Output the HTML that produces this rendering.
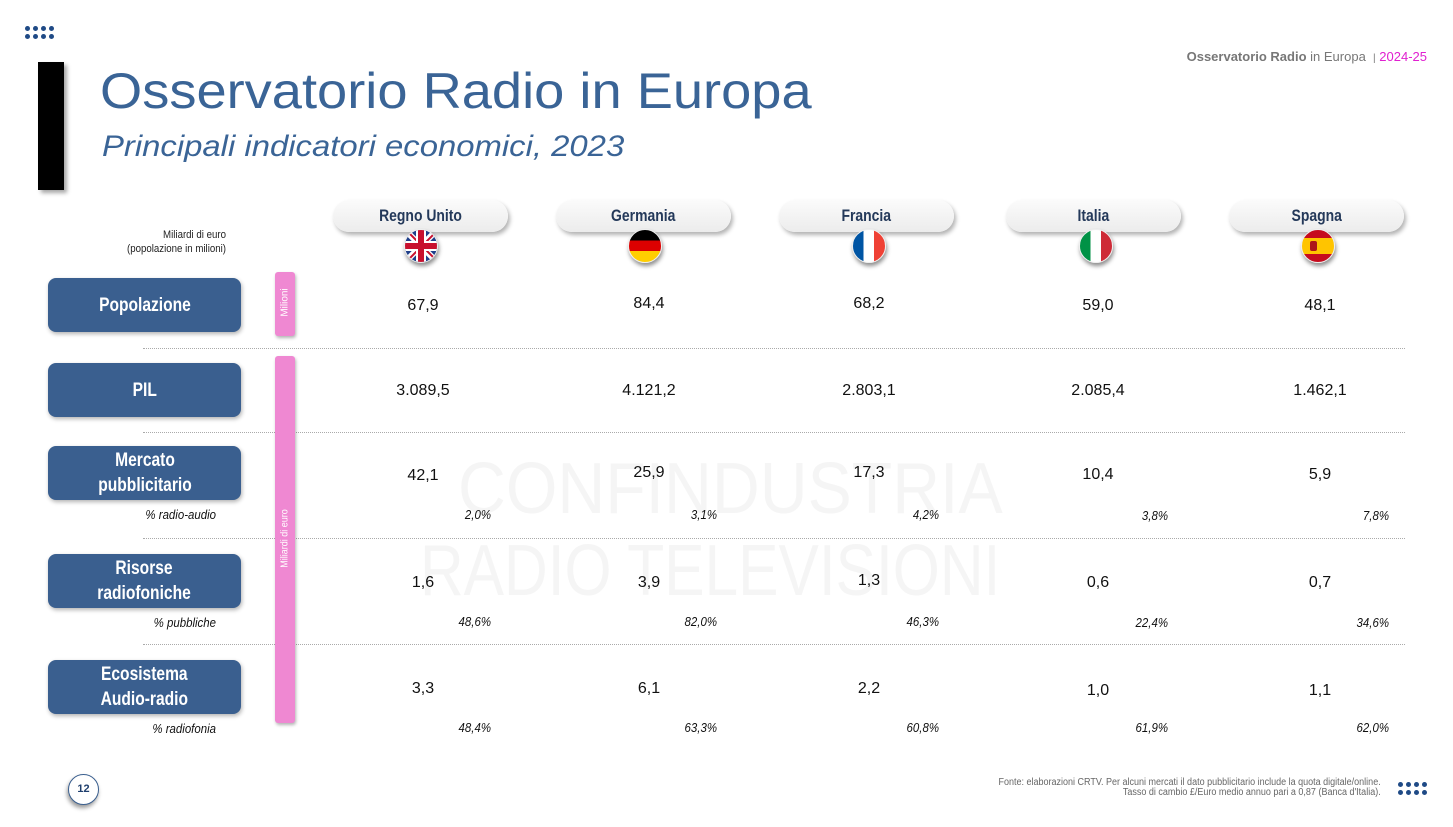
<!DOCTYPE html>
<html><head><meta charset="utf-8"><style>
body{margin:0;width:1453px;height:827px;background:#fff;position:relative;overflow:hidden;font-family:"Liberation Sans",sans-serif}
.a{position:absolute}
.dots{display:grid;grid-template-columns:repeat(4,5px);gap:3px 3px}
.dots i{width:5px;height:5px;border-radius:50%;background:#1f4a86;display:block}
.pill{position:absolute;top:200px;width:175px;height:32px;border-radius:16px;background:linear-gradient(#fbfbfb,#ececec);box-shadow:2px 3px 4px rgba(0,0,0,.3);text-align:center;font:bold 17px "Liberation Sans",sans-serif;color:#24395a;line-height:32px}
.pill span,.lbl span{display:inline-block;transform:scaleX(.82)}
.flag{position:absolute;top:229px;width:32px;height:32px;border-radius:50%;overflow:hidden;box-shadow:1px 3px 4px rgba(0,0,0,.45);border:1px solid #eee}
.lbl{position:absolute;left:48px;width:193px;height:54px;border-radius:8px;background:#3a5f8f;box-shadow:1px 2px 4px rgba(0,0,0,.3);color:#fff;font:bold 19px/25px "Liberation Sans",sans-serif;display:flex;align-items:center;justify-content:center;text-align:center}
.v{position:absolute;width:120px;margin-left:-60px;text-align:center;font-size:16px;color:#111}
.p{position:absolute;width:100px;text-align:right;font-style:italic;font-size:13px;color:#111;transform:scaleX(.88);transform-origin:right}
.s{position:absolute;width:180px;text-align:right;font-style:italic;font-size:13px;color:#111;left:36px;transform:scaleX(.88);transform-origin:right}
.hr{position:absolute;left:143px;width:1262px;border-top:1px dotted #aaa}
</style></head><body>
<div class="a dots" style="left:25px;top:26px"><i></i><i></i><i></i><i></i><i></i><i></i><i></i><i></i></div>
<div class="a" style="left:38px;top:62px;width:26px;height:128px;background:#000;box-shadow:3px 3px 4px rgba(0,0,0,.35)"></div>
<div class="a" style="left:100px;top:62px;font-size:50px;color:#3a6496;white-space:nowrap;transform:scaleX(1.085);transform-origin:left">Osservatorio Radio in Europa</div>
<div class="a" style="left:102px;top:130px;font-size:30px;font-style:italic;color:#3a6496;white-space:nowrap;transform:scaleX(1.095);transform-origin:left">Principali indicatori economici, 2023</div>
<div class="a" style="right:26px;top:49px;font-size:13px;color:#777;white-space:nowrap"><b>Osservatorio Radio</b> in Europa &nbsp;<span style="font-size:10px">|</span> <span style="color:#e020d0">2024-25</span></div>

<div class="a" style="left:458px;top:448px;font-size:72px;color:#f5f5f5;white-space:nowrap;transform:scaleX(.92);transform-origin:left">CONFINDUSTRIA</div>
<div class="a" style="left:420px;top:530px;font-size:72px;color:#f5f5f5;white-space:nowrap;transform:scaleX(.84);transform-origin:left">RADIO TELEVISIONI</div>

<div class="a" style="left:60px;top:228px;width:166px;text-align:right;font-size:11px;line-height:14px;color:#222;transform:scaleX(.88);transform-origin:right">Miliardi di euro<br>(popolazione in milioni)</div>

<div class="pill" style="left:333px"><span>Regno Unito</span></div>
<div class="pill" style="left:556px"><span>Germania</span></div>
<div class="pill" style="left:779px"><span>Francia</span></div>
<div class="pill" style="left:1006px"><span>Italia</span></div>
<div class="pill" style="left:1229px"><span>Spagna</span></div>

<div class="flag" style="left:404px;background:#1f3f8a">
<div class="a" style="left:-10px;top:13px;width:52px;height:6px;background:#fff;transform:rotate(45deg)"></div>
<div class="a" style="left:-10px;top:13px;width:52px;height:6px;background:#fff;transform:rotate(-45deg)"></div>
<div class="a" style="left:-10px;top:14px;width:52px;height:2px;background:#c8102e;transform:rotate(45deg)"></div>
<div class="a" style="left:-10px;top:16px;width:52px;height:2px;background:#c8102e;transform:rotate(-45deg)"></div>
<div class="a" style="left:0;top:11px;width:32px;height:10px;background:#fff"></div><div class="a" style="left:11px;top:0;width:10px;height:32px;background:#fff"></div>
<div class="a" style="left:0;top:13px;width:32px;height:6px;background:#c8102e"></div><div class="a" style="left:13px;top:0;width:6px;height:32px;background:#c8102e"></div></div>
<div class="flag" style="left:628px;background:linear-gradient(#000 0 33%,#dd0000 33% 66%,#ffce00 66%)"></div>
<div class="flag" style="left:852px;background:linear-gradient(90deg,#0055a4 0 33%,#fff 33% 66%,#ef4135 66%)"></div>
<div class="flag" style="left:1079px;background:linear-gradient(90deg,#009246 0 33%,#fff 33% 66%,#ce2b37 66%)"></div>
<div class="flag" style="left:1301px;background:linear-gradient(#c60b1e 0 25%,#ffc400 25% 75%,#c60b1e 75%)"><div class="a" style="left:8px;top:11px;width:7px;height:10px;background:#ad1519;border-radius:2px"></div></div>

<div class="hr" style="top:348px"></div><div class="hr" style="top:432px"></div><div class="hr" style="top:538px"></div><div class="hr" style="top:644px"></div>

<div class="lbl" style="top:278px"><span>Popolazione</span></div>
<div class="lbl" style="top:363px"><span>PIL</span></div>
<div class="lbl" style="top:446px"><span>Mercato<br>pubblicitario</span></div>
<div class="lbl" style="top:554px"><span>Risorse<br>radiofoniche</span></div>
<div class="lbl" style="top:660px"><span>Ecosistema<br>Audio-radio</span></div>

<div class="a" style="left:275px;top:272px;width:20px;height:64px;background:#ef88d2;border-radius:3px;box-shadow:1px 2px 3px rgba(0,0,0,.3)"></div>
<div class="a" style="left:262px;top:297px;width:46px;text-align:center;font-size:10px;color:#fff;transform:rotate(-90deg)">Milioni</div>
<div class="a" style="left:275px;top:356px;width:20px;height:367px;background:#ef88d2;border-radius:3px;box-shadow:1px 2px 3px rgba(0,0,0,.3)"></div>
<div class="a" style="left:235px;top:533px;width:100px;text-align:center;font-size:10px;color:#fff;transform:rotate(-90deg) scaleX(.9)">Miliardi di euro</div>

<div class="v" style="left:423px;top:297px">67,9</div><div class="v" style="left:649px;top:295px">84,4</div><div class="v" style="left:869px;top:295px">68,2</div><div class="v" style="left:1098px;top:297px">59,0</div><div class="v" style="left:1320px;top:297px">48,1</div>
<div class="v" style="left:423px;top:382px">3.089,5</div><div class="v" style="left:649px;top:382px">4.121,2</div><div class="v" style="left:869px;top:382px">2.803,1</div><div class="v" style="left:1098px;top:382px">2.085,4</div><div class="v" style="left:1320px;top:382px">1.462,1</div>
<div class="v" style="left:423px;top:467px">42,1</div><div class="v" style="left:649px;top:464px">25,9</div><div class="v" style="left:869px;top:464px">17,3</div><div class="v" style="left:1098px;top:466px">10,4</div><div class="v" style="left:1320px;top:466px">5,9</div>
<div class="v" style="left:423px;top:574px">1,6</div><div class="v" style="left:649px;top:574px">3,9</div><div class="v" style="left:869px;top:572px">1,3</div><div class="v" style="left:1098px;top:574px">0,6</div><div class="v" style="left:1320px;top:574px">0,7</div>
<div class="v" style="left:423px;top:680px">3,3</div><div class="v" style="left:649px;top:680px">6,1</div><div class="v" style="left:869px;top:680px">2,2</div><div class="v" style="left:1098px;top:682px">1,0</div><div class="v" style="left:1320px;top:682px">1,1</div>

<div class="s" style="top:507px">% radio-audio</div>
<div class="s" style="top:615px">% pubbliche</div>
<div class="s" style="top:721px">% radiofonia</div>
<div class="p" style="left:391px;top:507px">2,0%</div><div class="p" style="left:617px;top:507px">3,1%</div><div class="p" style="left:839px;top:507px">4,2%</div><div class="p" style="left:1068px;top:508px">3,8%</div><div class="p" style="left:1289px;top:508px">7,8%</div>
<div class="p" style="left:391px;top:614px">48,6%</div><div class="p" style="left:617px;top:614px">82,0%</div><div class="p" style="left:839px;top:614px">46,3%</div><div class="p" style="left:1068px;top:615px">22,4%</div><div class="p" style="left:1289px;top:615px">34,6%</div>
<div class="p" style="left:391px;top:720px">48,4%</div><div class="p" style="left:617px;top:720px">63,3%</div><div class="p" style="left:839px;top:720px">60,8%</div><div class="p" style="left:1068px;top:720px">61,9%</div><div class="p" style="left:1289px;top:720px">62,0%</div>

<div class="a" style="left:68px;top:774px;width:29px;height:29px;border-radius:50%;border:1px solid #3a5f8f;background:#fff;box-shadow:-1px 3px 4px rgba(0,0,0,.4);text-align:center;font:bold 11px/29px 'Liberation Sans',sans-serif;color:#1f3f6e">12</div>
<div class="a" style="right:72px;top:778px;text-align:right;font-size:10px;line-height:10px;color:#666;white-space:nowrap;transform:scaleX(.9);transform-origin:right">Fonte: elaborazioni CRTV. Per alcuni mercati il dato pubblicitario include la quota digitale/online.<br>Tasso di cambio £/Euro medio annuo pari a 0,87 (Banca d'Italia).</div>
<div class="a dots" style="left:1398px;top:782px"><i></i><i></i><i></i><i></i><i></i><i></i><i></i><i></i></div>
</body></html>
